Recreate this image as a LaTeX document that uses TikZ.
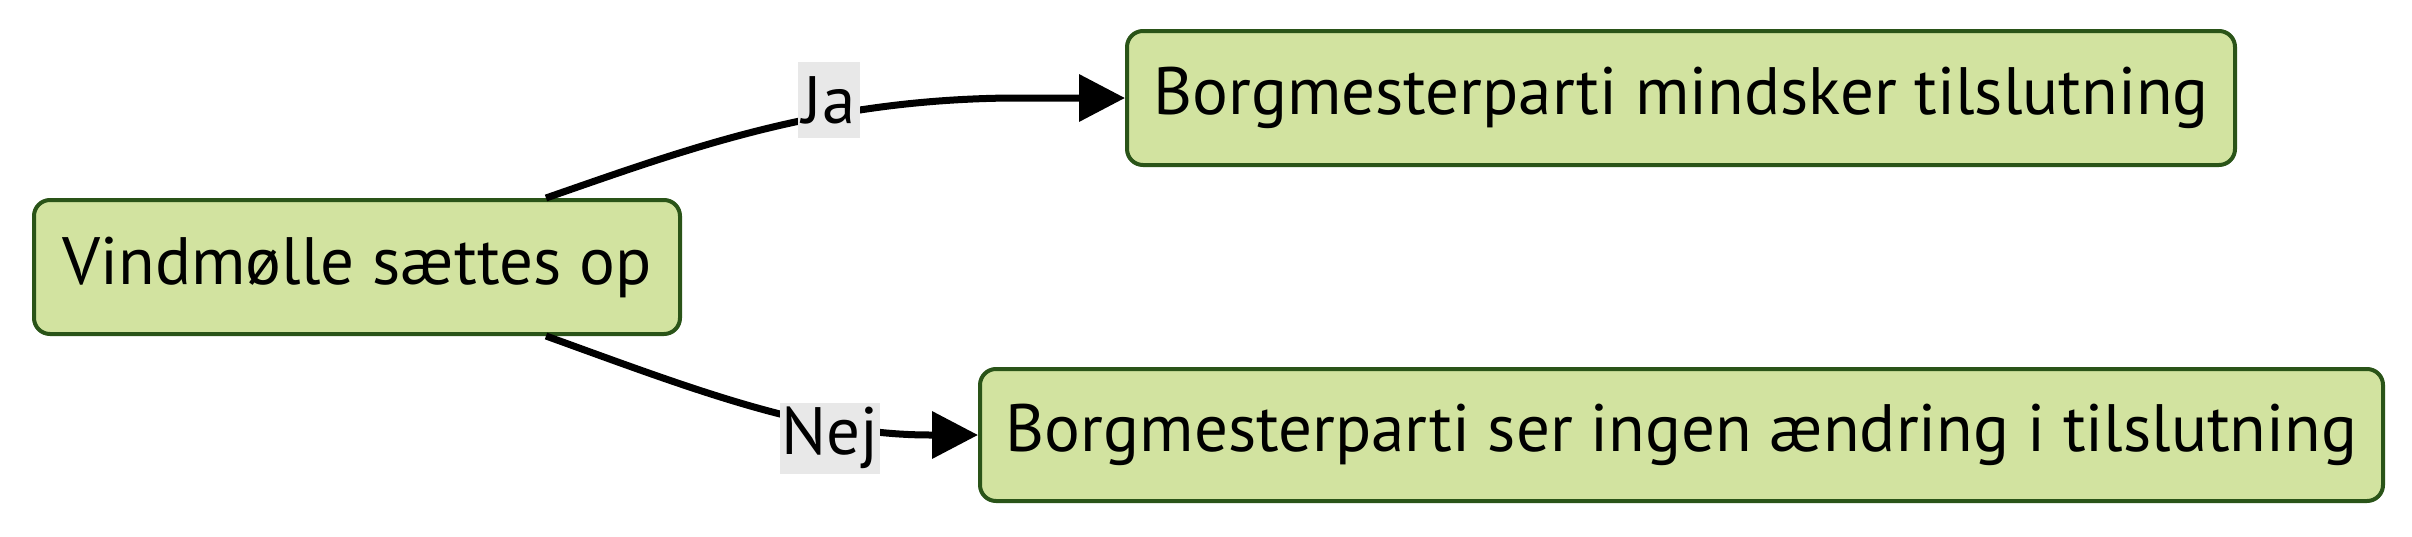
\documentclass[tikz,border=0pt]{standalone}
\usepackage{fontspec}
\setmainfont{PT Sans}
\usetikzlibrary{arrows.meta,calc}
\definecolor{nodefill}{HTML}{D2E3A0}
\definecolor{nodeline}{HTML}{2A5418}
\definecolor{labelbg}{HTML}{E8E8E8}
\begin{document}
\begin{tikzpicture}[x=1pt,y=-1pt,
  box/.style={draw=nodeline,fill=nodefill,line width=4pt,rounded corners=16pt,
    inner sep=0pt,font=\fontsize{67}{70}\selectfont,text=black},
  elabel/.style={fill=labelbg,inner sep=0pt,font=\fontsize{67}{70}\selectfont,text=black},
  flow/.style={line width=7pt,draw=black,-{Triangle[length=46pt,width=46pt]}}]
\useasboundingbox (0,0) rectangle (2412,536);
\node[box,minimum width=646pt,minimum height=134pt] (A) at (357,267) {Vindmølle sættes op};
\node[box,minimum width=1108pt,minimum height=134pt] (B) at (1681,98) {Borgmesterparti mindsker tilslutning};
\node[box,minimum width=1403pt,minimum height=132pt] (C) at (1681.5,435) {Borgmesterparti ser ingen ændring i tilslutning};
\coordinate (As) at ($(A.north)+(189,0)$);
\coordinate (Ae) at ($(A.south)+(189,0)$);
\draw[flow] (As) .. controls (690,148) and (820,100) .. (1010,98) -- (B.west);
\draw[flow] (Ae) .. controls (690,388) and (810,435) .. (930,435) -- (C.west);
\node[elabel,minimum width=62pt,minimum height=76pt] (ja) at (829,100) {Ja};
\node[elabel,minimum width=100pt,minimum height=71pt] (nej) at (830,438) {Nej};
\end{tikzpicture}
\end{document}
